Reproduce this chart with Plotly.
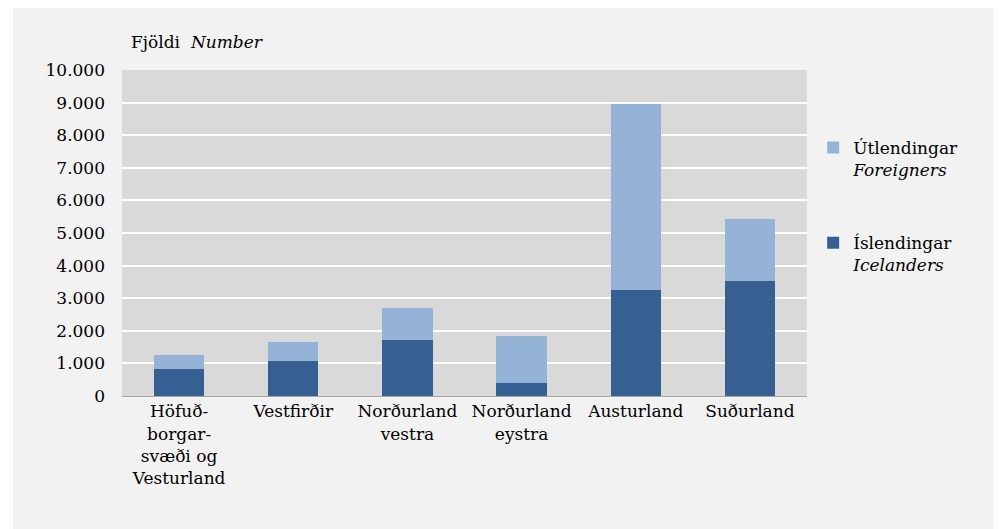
import plotly.graph_objects as go

# Regions (category labels as shown, with line breaks)
regions = [
    "Höfuð-<br>borgar-<br>svæði og<br>Vesturland",
    "Vestfirðir",
    "Norðurland<br>vestra",
    "Norðurland<br>eystra",
    "Austurland",
    "Suðurland",
]

# Values
icelanders = [820, 1070, 1730, 390, 3240, 3520]
foreigners = [450, 600, 955, 1450, 5720, 1920]

y_ticks = [0, 1000, 2000, 3000, 4000, 5000, 6000, 7000, 8000, 9000, 10000]
y_tick_text = ["0", "1.000", "2.000", "3.000", "4.000", "5.000",
               "6.000", "7.000", "8.000", "9.000", "10.000"]

FONT = "DejaVu Serif"
FS = 17
DARK = "#376092"
LIGHT = "#95b3d7"

fig = go.Figure()

fig.add_trace(go.Bar(
    x=regions, y=icelanders,
    name="Íslendingar<br><i>Icelanders</i>",
    legendgroup="isl", legendrank=2,
    marker=dict(color=DARK, line=dict(width=0)),
))
fig.add_trace(go.Bar(
    x=regions, y=foreigners,
    name="Útlendingar<br><i>Foreigners</i>",
    legendgroup="utl", legendrank=1,
    marker=dict(color=LIGHT, line=dict(width=0)),
))

# page body adds an 8 px offset; plot area lands at 122..807 x 70..396 on screen
W, H = 994, 521
L, R, T, B = 114, 195, 62, 133
pw, ph = W - L - R, H - T - B

def px(xp):
    return (xp - L) / pw

def py(yp):
    return (H - B - yp) / ph

fig.update_layout(
    width=W, height=H,
    margin=dict(l=L, r=R, t=T, b=B),
    barmode="stack",
    bargap=0.56,
    paper_bgcolor="white",
    plot_bgcolor="#d9d9d9",
    font=dict(family=FONT, size=FS, color="#000000"),
    showlegend=True,
    legend=dict(
        traceorder="grouped",
        x=1.009, xanchor="left",
        y=py(122), yanchor="top",
        bgcolor="rgba(0,0,0,0)",
        font=dict(family=FONT, size=FS, color="#000000"),
        itemwidth=30,
        tracegroupgap=48,
        valign="top",
    ),
    xaxis=dict(
        showgrid=False,
        showline=True, linecolor="#a6a6a6", linewidth=1,
        ticks="", tickfont=dict(family=FONT, size=FS),
        fixedrange=True,
    ),
    yaxis=dict(
        range=[0, 10000],
        tickvals=y_ticks, ticktext=y_tick_text,
        showgrid=True, gridcolor="white", gridwidth=2,
        zeroline=False, showline=False,
        ticks="", ticklabelstandoff=16,
        tickfont=dict(family=FONT, size=FS),
        fixedrange=True,
    ),
    shapes=[
        dict(type="rect", xref="paper", yref="paper",
             x0=px(5), x1=px(W + 5), y0=py(H + 5), y1=py(-5),
             fillcolor="#f2f2f2", line=dict(width=0), layer="below"),
        dict(type="rect", xref="paper", yref="paper",
             x0=0, x1=1, y0=0, y1=1,
             fillcolor="#d9d9d9", line=dict(width=0), layer="below"),
    ],
    annotations=[
        dict(text="Fjöldi  <i>Number</i>", xref="paper", yref="paper",
             x=px(121), y=py(34), xanchor="left", yanchor="middle",
             showarrow=False, font=dict(family=FONT, size=FS, color="#000000")),
    ],
)

fig.write_html("out.html")
